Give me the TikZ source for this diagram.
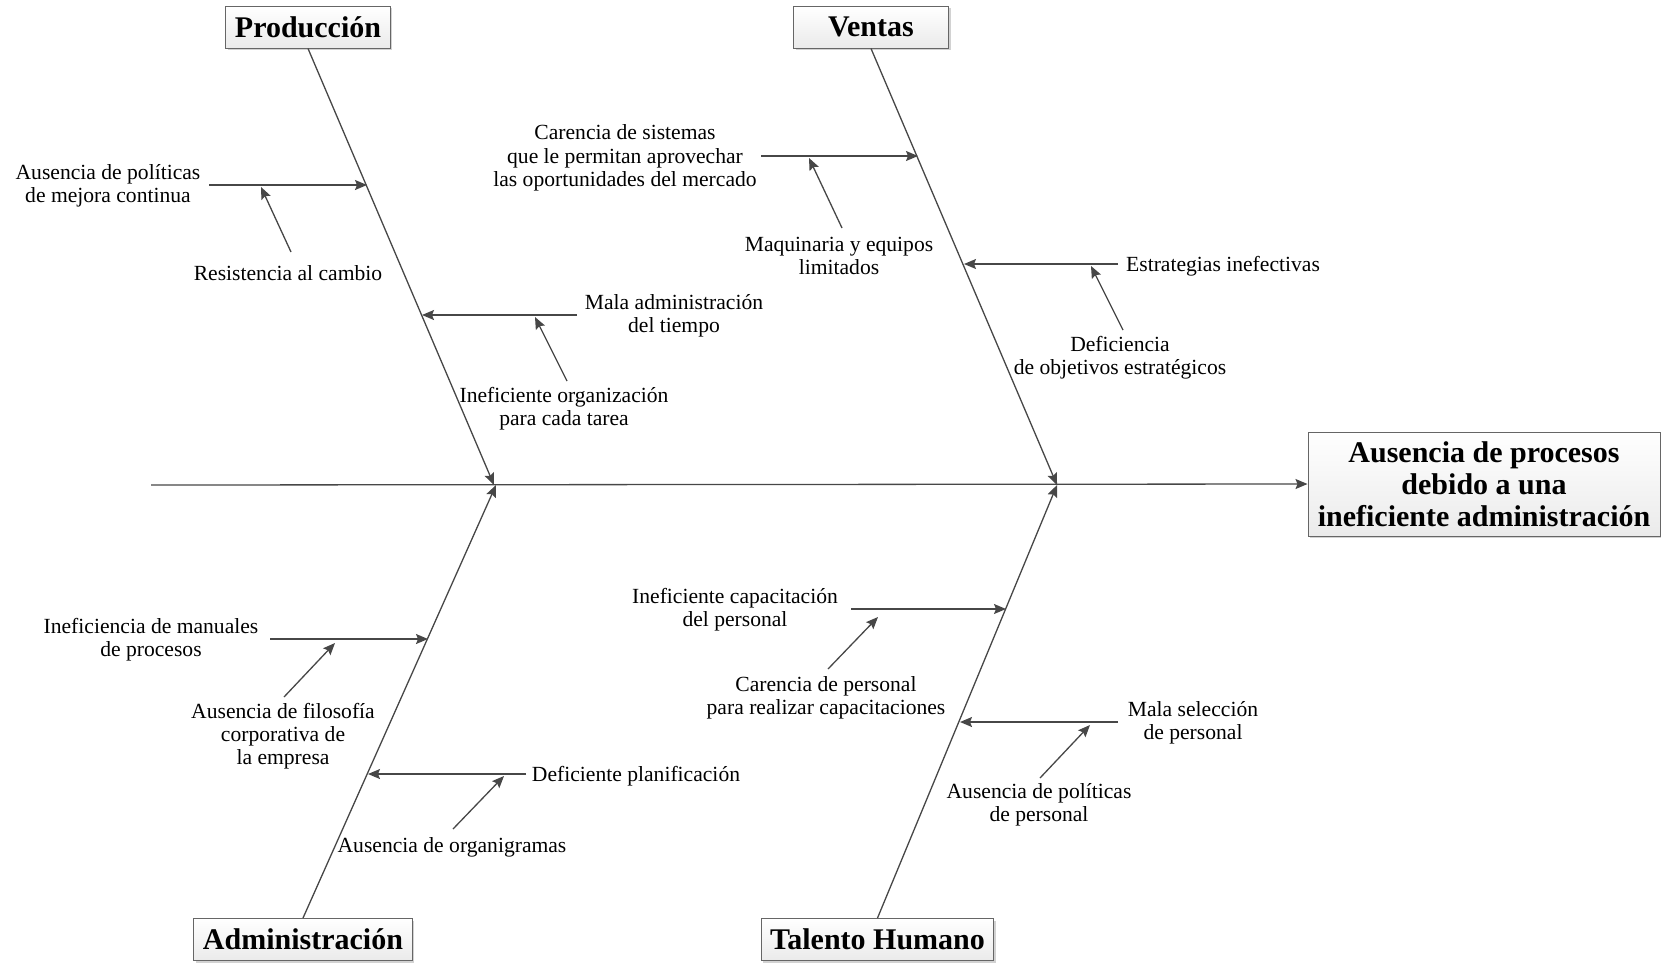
\documentclass[tikz,border=0pt]{standalone}
\usepackage{fontspec}
\setmainfont{Liberation Serif}
\usetikzlibrary{arrows.meta,shadows}
\begin{document}
\begin{tikzpicture}[x=1pt,y=-1pt,
 ln/.style={draw=black!72, line width=1.3pt},
 arr/.style={ln,-{Stealth[length=12pt,width=10pt,inset=2pt]}},
 lbl/.style={align=center,font=\fontsize{21.6}{23.3}\selectfont,inner sep=0pt,yshift=-2pt},
 cat/.style={draw=black!60,line width=1pt,top color=white,bottom color=black!8,
   minimum width=155pt,minimum height=42pt,inner xsep=9pt,inner ysep=0pt,
   font=\fontsize{30}{32}\selectfont\bfseries,
   drop shadow={shadow xshift=2pt,shadow yshift=-2pt,fill=black!35}}]
\useasboundingbox (0,0) rectangle (1661,962);

% category boxes and effect
\node[cat] (prod) at (308,27) {Producción};
\node[cat] (vent) at (871,27) {Ventas};
\node[cat] (adm) at (303,939.5) {Administración};
\node[cat] (th) at (877.5,939.5) {Talento Humano};
\node[cat, minimum width=352pt, minimum height=104pt, align=center] (eff) at (1484,484)
  {Ausencia de procesos\\debido a una\\ineficiente administración};

% spine
\coordinate (s0) at (151,485);
\coordinate (j1) at (494,485);
\coordinate (j1b) at (496,485);
\coordinate (j2) at (1057,485);
\draw[arr] (s0) -- (eff.west);

% main bones
\draw[arr] (prod.south) -- (j1);
\draw[arr] (vent.south) -- (j2);
\draw[arr] (adm.north) -- (j1b);
\draw[arr] (th.north) -- (j2);

% labels
\node[lbl] (t1) at (108,184) {Ausencia de políticas\\de mejora continua};
\node[lbl] (t2) at (288,271) {Resistencia al cambio};
\node[lbl] (t3) at (674,314) {Mala administración\\del tiempo};
\node[lbl] (t4) at (564,407) {Ineficiente organización\\para cada tarea};
\node[lbl] (t5) at (625,156) {Carencia de sistemas\\que le permitan aprovechar\\las oportunidades del mercado};
\node[lbl] (t6) at (839,254) {Maquinaria y equipos\\limitados};
\node[lbl] (t7) at (1223,264) {Estrategias inefectivas};
\node[lbl] (t8) at (1120,356) {Deficiencia\\de objetivos estratégicos};
\node[lbl] (t9) at (151,638) {Ineficiencia de manuales\\de procesos};
\node[lbl] (t10) at (283,734) {Ausencia de filosofía\\corporativa de\\la empresa};
\node[lbl] (t11) at (636,774) {Deficiente planificación};
\node[lbl] (t12) at (452,845) {Ausencia de organigramas};
\node[lbl] (t13) at (735,608) {Ineficiente capacitación\\del personal};
\node[lbl] (t14) at (826,696) {Carencia de personal\\para realizar capacitaciones};
\node[lbl] (t15) at (1193,721) {Mala selección\\de personal};
\node[lbl] (t16) at (1039,803) {Ausencia de políticas\\de personal};

% Producción branches
\coordinate (a1s) at (209,185); \coordinate (a1e) at (367,185);
\coordinate (a2s) at (291,252); \coordinate (a2e) at (261,187);
\coordinate (a3s) at (577,315); \coordinate (a3e) at (422,315);
\coordinate (a4s) at (567,381); \coordinate (a4e) at (535,317);
\draw[arr] (a1s) -- (a1e);
\draw[arr] (a2s) -- (a2e);
\draw[arr] (a3s) -- (a3e);
\draw[arr] (a4s) -- (a4e);

% Ventas branches
\coordinate (b1s) at (761,156); \coordinate (b1e) at (918,156);
\coordinate (b2s) at (842,228); \coordinate (b2e) at (809,158);
\coordinate (b3s) at (1118,264); \coordinate (b3e) at (964,264);
\coordinate (b4s) at (1123,330); \coordinate (b4e) at (1091,266);
\draw[arr] (b1s) -- (b1e);
\draw[arr] (b2s) -- (b2e);
\draw[arr] (b3s) -- (b3e);
\draw[arr] (b4s) -- (b4e);

% Administración branches
\coordinate (c1s) at (270,639); \coordinate (c1e) at (428,639);
\coordinate (c2s) at (284,697); \coordinate (c2e) at (335,643);
\coordinate (c3s) at (526,774); \coordinate (c3e) at (368,774);
\coordinate (c4s) at (453,829); \coordinate (c4e) at (504,776);
\draw[arr] (c1s) -- (c1e);
\draw[arr] (c2s) -- (c2e);
\draw[arr] (c3s) -- (c3e);
\draw[arr] (c4s) -- (c4e);

% Talento Humano branches
\coordinate (d1s) at (851,609); \coordinate (d1e) at (1006,609);
\coordinate (d2s) at (828,669); \coordinate (d2e) at (878,617);
\coordinate (d3s) at (1118,722); \coordinate (d3e) at (960,722);
\coordinate (d4s) at (1040,778); \coordinate (d4e) at (1090,725);
\draw[arr] (d1s) -- (d1e);
\draw[arr] (d2s) -- (d2e);
\draw[arr] (d3s) -- (d3e);
\draw[arr] (d4s) -- (d4e);
\end{tikzpicture}
\end{document}
